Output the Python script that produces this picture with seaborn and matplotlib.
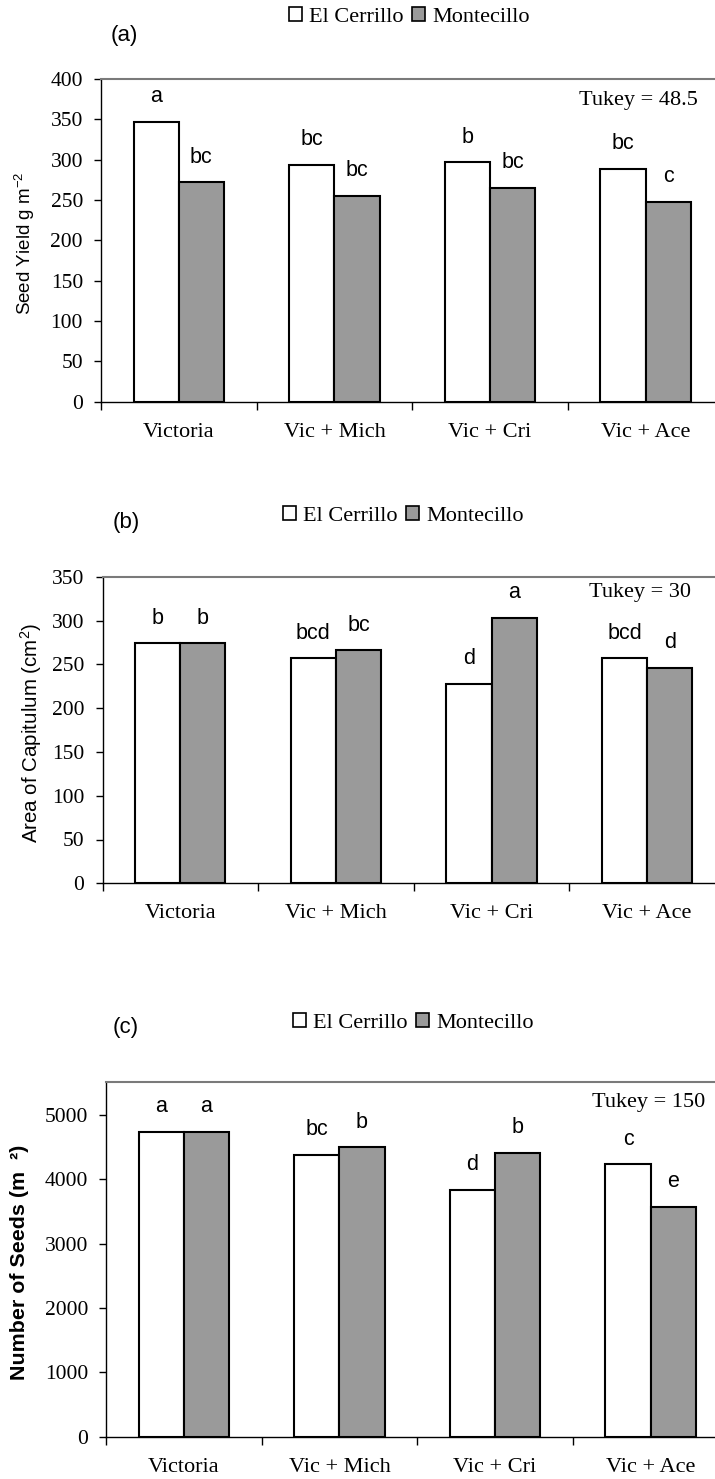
import matplotlib
matplotlib.use("Agg")
import matplotlib.pyplot as plt
import seaborn as sns
import pandas as pd
from matplotlib.patches import Patch

sns.set_theme(style="white")
plt.rcParams['font.family'] = ['Liberation Serif', 'DejaVu Serif']
plt.rcParams['mathtext.fontset'] = 'custom'
plt.rcParams['mathtext.rm'] = 'Liberation Sans'
plt.rcParams['mathtext.it'] = 'Liberation Sans:italic'
plt.rcParams['mathtext.bf'] = 'Liberation Sans:bold'
for k in ['text.color', 'axes.labelcolor', 'xtick.color', 'ytick.color']:
    plt.rcParams[k] = 'black'

# ---- data ----
categories = ["Victoria", "Vic + Mich", "Vic + Cri", "Vic + Ace"]
sites = ["El Cerrillo", "Montecillo"]

yield_cerrillo = [347, 294, 297, 289]
yield_montecillo = [272, 255, 265, 248]
yield_letters_cerrillo = ["a", "bc", "b", "bc"]
yield_letters_montecillo = ["bc", "bc", "bc", "c"]

area_cerrillo = [274, 257, 228, 257]
area_montecillo = [274, 266, 303, 246]
area_letters_cerrillo = ["b", "bcd", "d", "bcd"]
area_letters_montecillo = ["b", "bc", "a", "d"]

seeds_cerrillo = [4740, 4380, 3840, 4234]
seeds_montecillo = [4740, 4500, 4414, 3575]
seeds_letters_cerrillo = ["a", "bc", "d", "c"]
seeds_letters_montecillo = ["a", "b", "b", "e"]

panel_labels = ["(a)", "(b)", "(c)"]
tukey_texts = ["Tukey = 48.5", "Tukey = 30", "Tukey = 150"]
ylabels = [r"Seed Yield g m$^{-2}$", r"Area of Capitulum (cm$^{2}$)", "Number of Seeds (m  ²)"]
yticks_list = [list(range(0, 401, 50)), list(range(0, 351, 50)), list(range(0, 5001, 1000))]
ylims = [(0, 400), (0, 350), (0, 5520)]

colors = {"El Cerrillo": "white", "Montecillo": "#9a9a9a"}

W, H = 715, 1479
fig = plt.figure(figsize=(W / 100, H / 100), dpi=100)

# layout (pixels)
rects = [(101, 79, 401.7), (102.5, 576.7, 883.3), (106, 1081.7, 1436.7)]
legend_xy = [(409, 17), (403, 516), (413, 1023)]
panel_xy = [(124, 35), (126, 522), (126, 1028)]
tukey_pos = [(0.959, 0.933), (0.9455, 0.947), (0.963, 0.941)]
ylabel_x = [-0.103, -0.094, -0.124]
ylabel_size = [13.5, 14.8, 15.4]

datasets = [
    (yield_cerrillo, yield_montecillo, yield_letters_cerrillo, yield_letters_montecillo),
    (area_cerrillo, area_montecillo, area_letters_cerrillo, area_letters_montecillo),
    (seeds_cerrillo, seeds_montecillo, seeds_letters_cerrillo, seeds_letters_montecillo),
]

group_px = 155.6
for i, (ec, mo, lec, lmo) in enumerate(datasets):
    left, top, bottom = rects[i]
    ax = fig.add_axes([left / W, 1 - bottom / H, 4 * group_px / W, (bottom - top) / H])
    df = pd.DataFrame({
        "cat": categories * 2,
        "site": [sites[0]] * 4 + [sites[1]] * 4,
        "val": ec + mo,
    })
    sns.barplot(data=df, x="cat", y="val", hue="site", order=categories,
                hue_order=sites, palette=colors, width=0.58, edgecolor="black",
                linewidth=1.5, ax=ax, legend=False, errorbar=None, saturation=1)
    ax.set_xlim(-0.5, 3.5)
    ax.set_ylim(*ylims[i])
    ax.set_yticks(yticks_list[i])
    ax.set_yticklabels([str(t) for t in yticks_list[i]], fontsize=15.5)
    ax.tick_params(axis="y", direction="out", length=5, width=1, pad=8, left=True, color="black")
    ax.set_xticks(range(4))
    ax.set_xticklabels(categories, fontsize=16)
    ax.tick_params(axis="x", which="major", length=0, pad=15)
    ax.set_xticks([-0.5, 0.5, 1.5, 2.5, 3.5], minor=True)
    ax.tick_params(axis="x", which="minor", direction="out", length=6, width=1, bottom=True, color="black")
    ax.set_xlabel("")
    weight = "bold" if i == 2 else "normal"
    ax.set_ylabel(ylabels[i], fontsize=ylabel_size[i], family="Liberation Sans", fontweight=weight)
    ax.yaxis.set_label_coords(ylabel_x[i], 0.49)
    ax.spines["right"].set_visible(False)
    ax.spines["left"].set_color("black")
    ax.spines["left"].set_linewidth(1)
    ax.spines["bottom"].set_color("black")
    ax.spines["bottom"].set_linewidth(1)
    ax.spines["top"].set_color("#7a7a7a")
    ax.spines["top"].set_linewidth(1.5)
    ax.grid(False)

    for cont, labs in zip(ax.containers, [lec, lmo]):
        ax.bar_label(cont, labels=labs, padding=10.5, fontsize=15.5, family="Liberation Sans")

    ax.text(tukey_pos[i][0], tukey_pos[i][1], tukey_texts[i], transform=ax.transAxes,
            ha="right", va="center", fontsize=16)

    fig.text(panel_xy[i][0] / W, 1 - panel_xy[i][1] / H, panel_labels[i], fontsize=16,
             family="Liberation Sans", ha="center", va="center")

    handles = [Patch(facecolor=colors[s], edgecolor="black", linewidth=1.2) for s in sites]
    fig.legend(handles, sites, loc="center",
               bbox_to_anchor=(legend_xy[i][0] / W, 1 - legend_xy[i][1] / H),
               ncol=2, frameon=False, fontsize=16, handlelength=0.6, handleheight=0.6,
               handletextpad=0.3, columnspacing=0.4, borderpad=0)

fig.savefig("out.png", dpi=100)
